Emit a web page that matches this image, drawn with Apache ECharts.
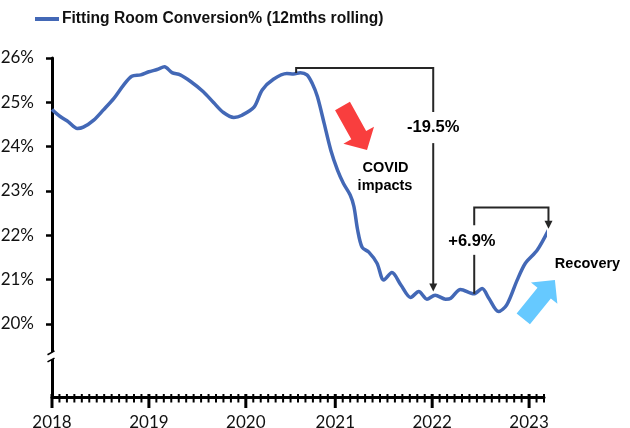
<!DOCTYPE html>
<html><head><meta charset="utf-8">
<script src="https://cdn.jsdelivr.net/npm/echarts@6/dist/echarts.min.js"></script>
<style>html,body{margin:0;padding:0;background:#fff}#c{width:630px;height:428px}</style>
</head><body><div id="c"></div>
<script>
// ---- data (x = 4-week retail period index from start of 2018) ----
const seriesName = 'Fitting Room Conversion% (12mths rolling)';
const periods = [0,1.1,2.2,3.4,4.2,5.6,6.9,8.3,9.6,10.7,11.9,13,14.1,15.1,16.1,17.2,18.6,20.3,21.7,23,24.4,25.5,27.1,28.2,29.7,31.5,32.4,33.3,34.2,34.9,35.6,36.5,37.4,38.3,39.1,40,40.5,41,41.6,42.5,43.6,44.5,45.6,46.8,48.1,49.2,50.3,51.4,52.8,53.5,54.8,56.6,57.7,58.6,59.9,61,62.4,63.5,65.1,66.6];
const conversion = [24.84,24.68,24.56,24.41,24.44,24.60,24.83,25.09,25.39,25.59,25.62,25.69,25.74,25.80,25.67,25.62,25.47,25.24,24.99,24.77,24.66,24.71,24.89,25.28,25.52,25.65,25.64,25.67,25.62,25.43,25.13,24.53,23.92,23.47,23.17,22.91,22.65,22.12,21.73,21.62,21.37,20.99,21.16,20.88,20.60,20.73,20.56,20.65,20.56,20.58,20.78,20.68,20.80,20.58,20.28,20.43,20.99,21.37,21.67,22.12];
const yearLabels = ['2018','2019','2020','2021','2022','2023'];
const yearTickPeriods = [0,13,26,38,51,64];
const periodTicks = Array.from({length: 67}, (_, i) => i);
const yTickValues = [20,21,22,23,24,25,26];
const annotationTexts = ['-19.5%', '+6.9%', 'COVID', 'impacts', 'Recovery'];

const chart = echarts.init(document.getElementById('c'), null, {renderer: 'canvas'});
const dataPairs = periods.map((p, i) => [p, conversion[i]]);
const axisFont = 'Lato, "Noto Sans", sans-serif';
const boldFont = '"Liberation Sans", Arial, sans-serif';

chart.setOption({
  animation: false,
  legend: {
    data: [seriesName], left: 35, top: 11, padding: 0, icon: 'rect', itemWidth: 24, itemHeight: 4,
    textStyle: {fontFamily: boldFont, fontWeight: 'bold', fontSize: 15.6, color: '#111', padding: [0,0,0,-2]}
  },
  grid: {left: 52, right: 86, top: 58, bottom: 31, containLabel: false, outerBoundsMode: 'none'},
  xAxis: {
    type: 'value', min: 0, max: 66, interval: 1, position: 'bottom',
    splitLine: {show: false},
    axisLine: {show: true, onZero: false, lineStyle: {color: '#000', width: 3}},
    axisTick: {show: false},
    axisLabel: {show: true, margin: 17,
      formatter: v => { const k = yearTickPeriods.indexOf(Math.round(v)); return k >= 0 ? yearLabels[k] : ''; },
      fontFamily: axisFont, fontSize: 17, color: '#111'}
  },
  yAxis: {
    type: 'value', min: 18.353, max: 26,
    splitLine: {show: false},
    axisLine: {show: true, lineStyle: {color: '#000', width: 3}},
    axisTick: {show: true, customValues: yTickValues, length: 6, lineStyle: {color: '#000', width: 2.5}},
    axisLabel: {customValues: yTickValues, formatter: v => Math.round(v) + '%', margin: 18,
      fontFamily: axisFont, fontSize: 17, color: '#111'}
  },
  series: [{
    name: seriesName, type: 'line', data: dataPairs, smooth: 0.3, showSymbol: false, clip: false,
    lineStyle: {color: '#4368B6', width: 3.5}, itemStyle: {color: '#4368B6'}, z: 5
  }]
});

const P = (x, y) => chart.convertToPixel({xAxisIndex: 0, yAxisIndex: 0}, [x, y]);
const lineCol = '#262626';
const g = [];
function poly(points) {
  g.push({type: 'polyline', shape: {points}, style: {stroke: lineCol, lineWidth: 2, fill: null}, z: 10});
}
function downArrowHead(pt) {
  g.push({type: 'polygon', shape: {points: [[pt[0], pt[1]], [pt[0]-4, pt[1]-8], [pt[0]+4, pt[1]-8]]}, style: {fill: lineCol}, z: 10});
}
function blockArrow(tail, tip, shaftHalf, headHalf, headLen, color) {
  const dx = tip[0]-tail[0], dy = tip[1]-tail[1], L = Math.hypot(dx, dy);
  const d = [dx/L, dy/L], n = [-d[1], d[0]];
  const hb = [tip[0]-d[0]*headLen, tip[1]-d[1]*headLen];
  const pts = [
    [tail[0]+n[0]*shaftHalf, tail[1]+n[1]*shaftHalf],
    [hb[0]+n[0]*shaftHalf, hb[1]+n[1]*shaftHalf],
    [hb[0]+n[0]*headHalf, hb[1]+n[1]*headHalf],
    tip,
    [hb[0]-n[0]*headHalf, hb[1]-n[1]*headHalf],
    [hb[0]-n[0]*shaftHalf, hb[1]-n[1]*shaftHalf],
    [tail[0]-n[0]*shaftHalf, tail[1]-n[1]*shaftHalf]
  ];
  g.push({type: 'polygon', shape: {points: pts}, style: {fill: color}, z: 8});
}
function text(t, pt, size) {
  g.push({type: 'text', x: pt[0], y: pt[1], z: 12,
    style: {text: t, fill: '#000', font: 'bold ' + size + 'px ' + boldFont, align: 'center', verticalAlign: 'middle'}});
}

// X axis ticks through the axis scale: one per period, longer at each year start
const axisY = P(0, 18.353)[1];
const minorPts = [], majorPts = [];
periodTicks.forEach(p => {
  const x = P(p, 22)[0];
  if (yearTickPeriods.indexOf(p) >= 0) majorPts.push(x); else minorPts.push(x);
});
g.push({type: 'group', children: minorPts.map(x => ({
  type: 'polyline', shape: {points: [[x, axisY - 3], [x, axisY + 5.5]]}, style: {stroke: '#000', lineWidth: 2, fill: null}
}))});
g.push({type: 'group', children: majorPts.map(x => ({
  type: 'polyline', shape: {points: [[x, axisY - 3], [x, axisY + 11]]}, style: {stroke: '#000', lineWidth: 3, fill: null}
}))});

// Bracket 1 (-19.5%)
poly([P(32.75, 25.66), P(32.75, 25.774), P(51.14, 25.774), P(51.14, 24.78)]);
const a1 = P(51.14, 20.73);
poly([P(51.14, 24.08), [a1[0], a1[1]-7]]);
downArrowHead(a1);
text(annotationTexts[0], P(51.14, 24.43), 16.5);

// Bracket 2 (+6.9%)
const a2 = P(66.6, 22.15);
poly([P(56.64, 22.23), P(56.64, 22.63), P(66.6, 22.63), [a2[0], a2[1]-7]]);
downArrowHead(a2);
poly([P(56.64, 21.56), P(56.64, 20.68)]);
text(annotationTexts[1], P(56.33, 21.86), 16.5);

blockArrow([342.5, 106], [367, 150], 8.5, 17.5, 17, '#F93E3E');
blockArrow([523.3, 318.8], [554.9, 279.9], 8.6, 17, 17, '#66C9FF');

text(annotationTexts[2], [385.5, 167.5], 14.5);
text(annotationTexts[3], [385, 186], 14.5);
text(annotationTexts[4], [587.5, 263.5], 14.5);

// Axis break on the y axis
const yb = P(0, 19.35)[1];
const bx = 51;
g.push({type: 'polygon', shape: {points: [[bx-2.5, yb+1.4], [bx+3.5, yb-1.9], [bx+3.5, yb+5.3], [bx-2.5, yb+8.6]]}, style: {fill: '#fff'}, z: 20});
g.push({type: 'line', shape: {x1: bx-3.5, y1: yb+1.9, x2: bx+3.5, y2: yb-1.9}, style: {stroke: '#000', lineWidth: 1.6}, z: 21});
g.push({type: 'line', shape: {x1: bx-3.5, y1: yb+9.1, x2: bx+3.5, y2: yb+5.3}, style: {stroke: '#000', lineWidth: 1.6}, z: 21});

chart.setOption({graphic: g});
</script></body></html>
